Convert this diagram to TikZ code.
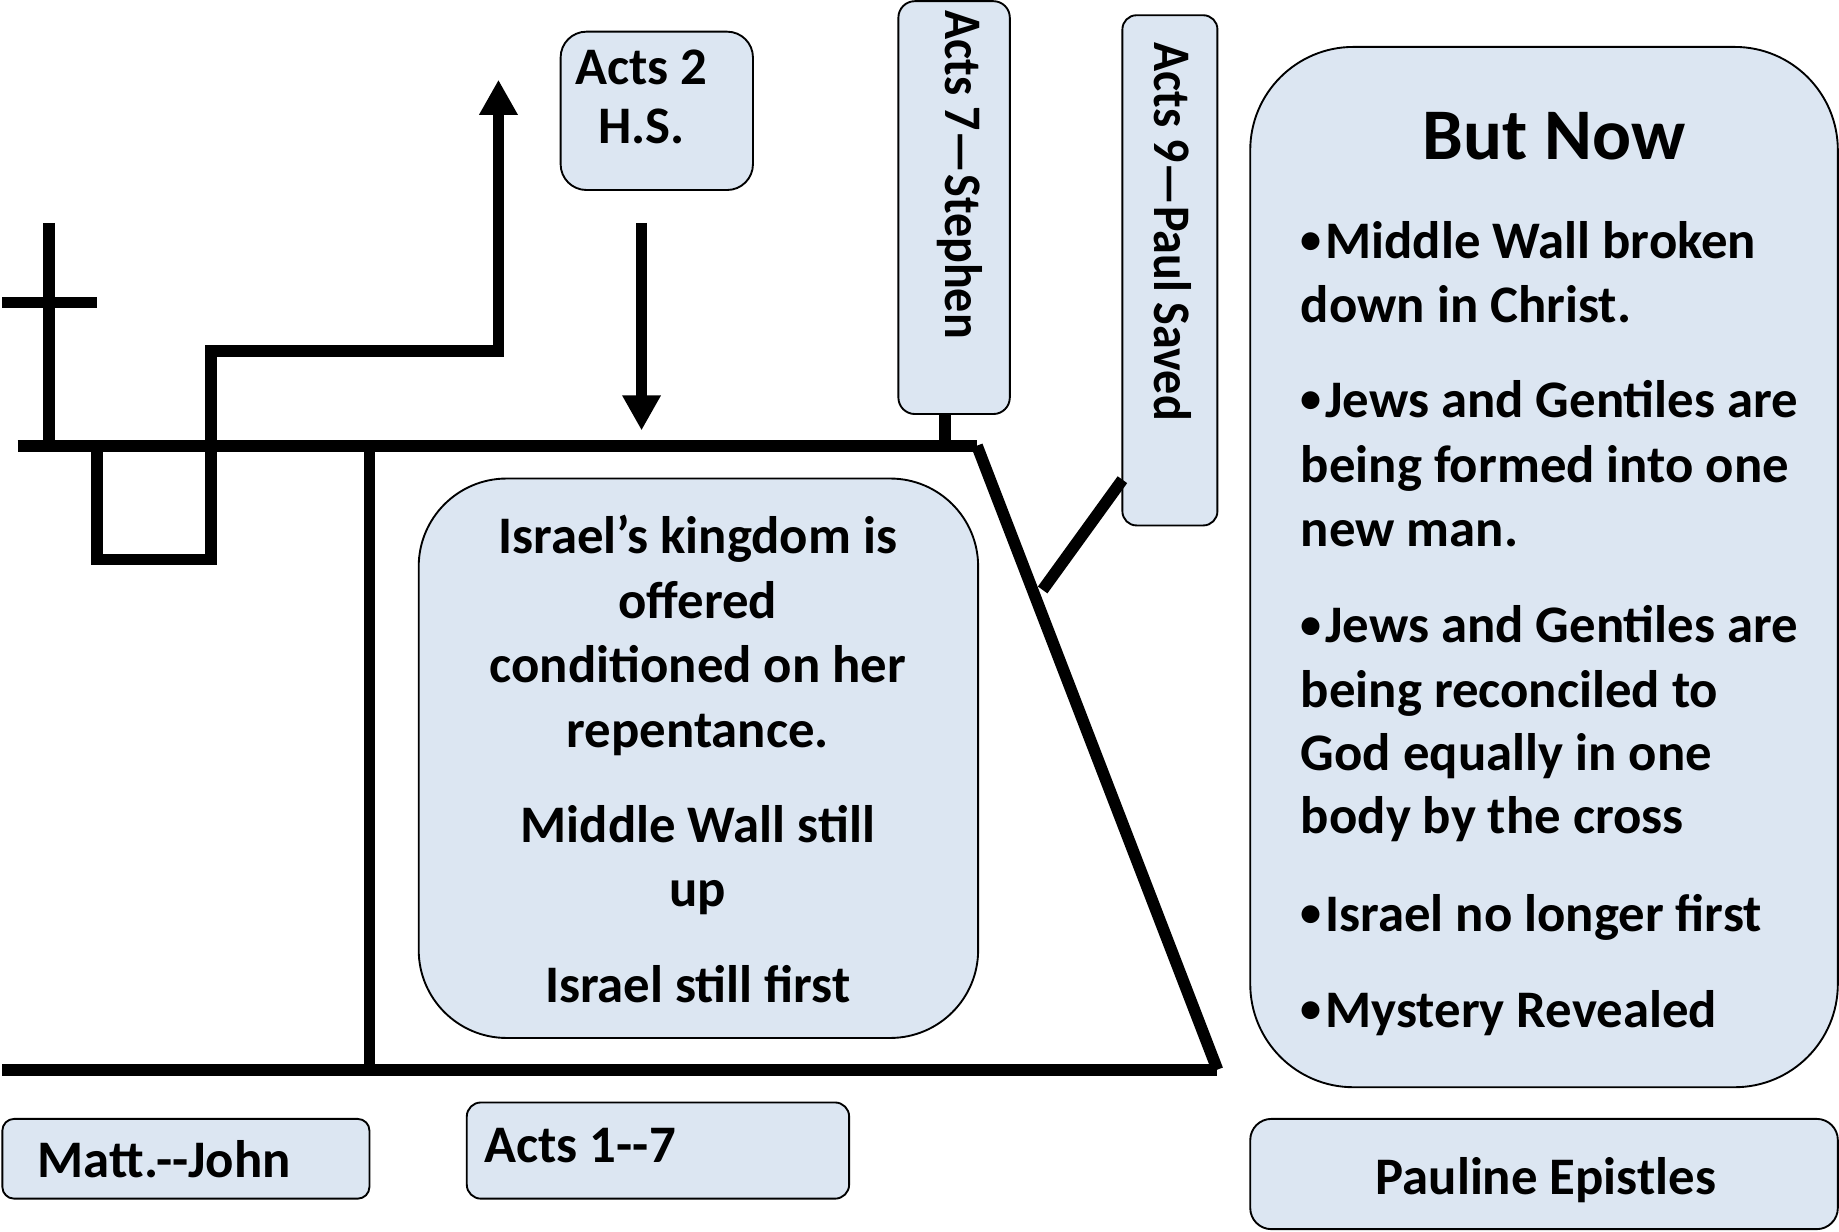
\documentclass[tikz,border=0pt]{standalone}
\usepackage{fontspec}
\setmainfont{Carlito}
\usetikzlibrary{arrows.meta}
\definecolor{boxfill}{HTML}{DCE6F2}
\newcommand\smbul{\raisebox{4pt}{\fontsize{36}{40}\selectfont •}\hspace{3pt}}
\begin{document}
\begin{tikzpicture}[x=1pt,y=-1pt,
  heavy/.style={line width=10pt},
  arr/.style={heavy,-{Triangle[length=30pt,width=31pt]}},
  bx/.style={draw=black, line width=1.6pt, fill=boxfill, inner sep=0pt},
  txt/.style={font=\bfseries\fontsize{45}{55}\selectfont, inner sep=0pt},
  vtxt/.style={txt, anchor=base west, rotate=-90, xscale=0.91},
  title/.style={font=\bfseries\fontsize{62}{70}\selectfont, inner sep=0pt}]
\fill[white] (0,0) rectangle (1568,1050);
\useasboundingbox (0,0) rectangle (1568,1050);

% ---------- boxes ----------
\node[bx, rounded corners=22pt, minimum width=164pt, minimum height=135pt] (acts2) at (560,94.5) {};
\node[bx, rounded corners=14pt, minimum width=95pt, minimum height=352pt] (steph) at (813.5,177) {};
\node[bx, rounded corners=12pt, minimum width=81pt, minimum height=435pt] (paul) at (997.5,230.5) {};
\node[bx, rounded corners=75pt, minimum width=477pt, minimum height=477pt] (isr) at (595.5,646.5) {};
\node[bx, rounded corners=88pt, minimum width=501pt, minimum height=887pt] (now) at (1316.5,483.5) {};
\node[bx, rounded corners=10pt, minimum width=313pt, minimum height=68pt] (matt) at (158.5,988) {};
\node[bx, rounded corners=12pt, minimum width=326pt, minimum height=82pt] (acts17) at (561,981) {};
\node[bx, rounded corners=18pt, minimum width=501pt, minimum height=94pt] (paulep) at (1316.5,1001) {};

% ---------- texts ----------
\node[txt, anchor=base] (acts2a) at (547,72.4) {Acts 2};
\node[txt, anchor=base] (acts2b) at (547,122) {H.S.};
\node[vtxt] (stepht) at (806,9) {Acts 7—Stephen};
\node[vtxt] (pault) at (984,36) {Acts 9—Paul Saved};
\foreach \y/\t [count=\i] in {472/{Israel’s kingdom is}, 527/{offered}, 582/{conditioned on her}, 637/{repentance.}, 718/{Middle Wall still}, 773/{up}, 855/{Israel still first}}
  \node[txt, anchor=base] (isrt\i) at (595,\y) {\t};
\node[title, anchor=base] (nowt) at (1325,136) {But Now};
\foreach \y/\t [count=\i] in {220/{\smbul Middle Wall broken}, 275/{down in Christ.}, 356/{\smbul Jews and Gentiles are}, 411/{being formed into one}, 466/{new man.}, 548/{\smbul Jews and Gentiles are}, 603/{being reconciled to}, 657/{God equally in one}, 711/{body by the cross}, 794/{\smbul Israel no longer first}, 876/{\smbul Mystery Revealed}}
  \node[txt, anchor=base west] (nowb\i) at (1109,\y) {\t};
\node[txt, anchor=base west] (mattt) at (32,1003.6) {Matt.-{}-John};
\node[txt, anchor=base west] (acts17t) at (413,991) {Acts 1-{}-7};
\node[txt, anchor=base] (paulept) at (1318,1018.6) {Pauline Epistles};

% ---------- timeline coordinates ----------
\coordinate (tl) at (15,380);
\coordinate (tr) at (833,380);
\coordinate (br) at (1038,912);
\coordinate (bl) at (2,912);
\coordinate (divt) at (315,380);
\coordinate (divb) at (315,912);
\coordinate (ct) at (42,190);
\coordinate (cb) at (42,375);
\coordinate (cl) at (2,258);
\coordinate (cr) at (83,258);
\coordinate (w1) at (83,380);
\coordinate (w2) at (83,477);
\coordinate (w3) at (180,477);
\coordinate (w4) at (180,299);
\coordinate (w5) at (425,299);
\coordinate (w6) at (425,68);
\coordinate (d1) at (547,190);
\coordinate (d2) at (547,367);
\coordinate (p1) at (957,409);
\coordinate (p2) at (889,503);

% ---------- heavy lines ----------
\draw[heavy] (tl) -- (tr);
\draw[heavy] (tr) -- (br);
\draw[heavy] (bl) -- (br);
\draw[heavy] (divt) -- (divb);
\draw[heavy] (ct) -- (cb);
\draw[heavy] (cl) -- (cr);
\draw[arr, line join=miter] (w1) -- (w2) -- (w3) -- (w4) -- (w5) -- (w6);
\draw[arr] (d1) -- (d2);
\draw[heavy] ([xshift=-7.5pt]steph.south) -- ([xshift=-7.5pt]steph.south |- tr);
\draw[heavy] (p1) -- (p2);
\end{tikzpicture}
\end{document}
